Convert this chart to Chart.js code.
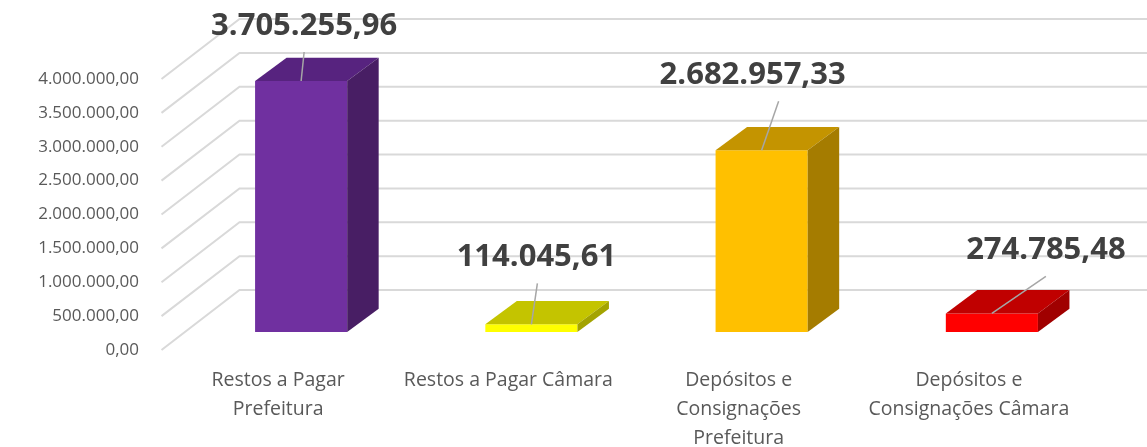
<html>
<head>
  <meta charset="utf-8">
  <title>Chart</title>
  <style>
    body { margin: 0; background: #ffffff; }
    canvas { display: block; }
  </style>
</head>
<body>
  <canvas id="myChart" width="1147" height="447"></canvas>
  <script src="https://cdn.jsdelivr.net/npm/chart.js"></script>
  <script>
    // data
    var categories = [
      ['Restos a Pagar', 'Prefeitura'],
      ['Restos a Pagar Câmara'],
      ['Depósitos e', 'Consignações', 'Prefeitura'],
      ['Depósitos e', 'Consignações Câmara']
    ];
    var values = [3705255.96, 114045.61, 2682957.33, 274785.48];
    var yMin = 0;
    var yMax = 4000000;
    var yStep = 500000;

    // colours of the three visible faces
    var frontColors = ['#7030a0', '#ffff00', '#ffc000', '#ff0000'];
    var topColors = ['#57237f', '#c4c400', '#c49400', '#c00000'];
    var sideColors = ['#481e64', '#a3a300', '#a57c00', '#a00000'];

    // where each value label sits, relative to the top centre of its bar
    var labelOffsets = [[3, -55], [5, -67], [-9, -75], [54, -63]];
    var leaderX = [3, 6, 17, 54];

    var depth = { dx: 31.5, dy: 23.3 };

    function fmt(v) {
      var parts = Math.abs(v).toFixed(2).split('.');
      return parts[0].replace(/\B(?=(\d{3})+(?!\d))/g, '.') + ',' + parts[1];
    }

    var box3d = {
      id: 'box3d',
      beforeDatasetsDraw: function (chart) {
        var ctx = chart.ctx;
        var y = chart.scales.y;
        var left = chart.chartArea.left;
        ctx.save();
        ctx.strokeStyle = '#d9d9d9';
        ctx.lineWidth = 2;
        for (var v = yMin; v <= yMax; v += yStep) {
          var py = y.getPixelForValue(v);
          ctx.beginPath();
          ctx.moveTo(left - 24.5, py + 18);
          ctx.lineTo(left + 53.5, py - 42);
          ctx.lineTo(chart.width, py - 42);
          ctx.stroke();
        }
        ctx.restore();
      },
      afterDatasetsDraw: function (chart) {
        var ctx = chart.ctx;
        var meta = chart.getDatasetMeta(0);
        ctx.save();
        meta.data.forEach(function (bar, i) {
          var w = bar.width;
          var l = bar.x - w / 2, r = bar.x + w / 2;
          var t = bar.y, b = bar.base;
          // top face
          ctx.fillStyle = topColors[i];
          ctx.beginPath();
          ctx.moveTo(l, t);
          ctx.lineTo(r, t);
          ctx.lineTo(r + depth.dx, t - depth.dy);
          ctx.lineTo(l + depth.dx, t - depth.dy);
          ctx.closePath();
          ctx.fill();
          // side face
          ctx.fillStyle = sideColors[i];
          ctx.beginPath();
          ctx.moveTo(r, t);
          ctx.lineTo(r + depth.dx, t - depth.dy);
          ctx.lineTo(r + depth.dx, b - depth.dy);
          ctx.lineTo(r, b);
          ctx.closePath();
          ctx.fill();
        });
        // value labels with leader lines
        meta.data.forEach(function (bar, i) {
          var lx = bar.x + labelOffsets[i][0];
          var ly = bar.y + labelOffsets[i][1];
          ctx.strokeStyle = '#a6a6a6';
          ctx.lineWidth = 1.5;
          ctx.beginPath();
          ctx.moveTo(bar.x + leaderX[i], ly + 26);
          ctx.lineTo(bar.x, bar.y);
          ctx.stroke();
          ctx.fillStyle = '#404040';
          ctx.font = 'bold 31px "Open Sans"';
          ctx.textAlign = 'center';
          ctx.textBaseline = 'middle';
          ctx.fillText(fmt(values[i]), lx, ly);
        });
        ctx.restore();
      }
    };

    var myChart = new Chart(document.getElementById('myChart'), {
      type: 'bar',
      data: {
        labels: categories,
        datasets: [{
          data: values,
          backgroundColor: frontColors,
          borderWidth: 0,
          barPercentage: 0.4,
          categoryPercentage: 1
        }]
      },
      options: {
        responsive: false,
        animation: false,
        layout: { padding: { top: 61, right: 40, left: 0, bottom: 0 } },
        plugins: {
          legend: { display: false },
          tooltip: { enabled: false }
        },
        scales: {
          x: {
            grid: { display: false, drawTicks: false },
            border: { display: false },
            afterFit: function (scale) { scale.height = 115; },
            ticks: {
              color: '#595959',
              font: { family: 'Open Sans', size: 19.5, lineHeight: 1.48 },
              padding: 34.5,
              labelOffset: -23,
              maxRotation: 0,
              autoSkip: false
            }
          },
          y: {
            min: yMin,
            max: yMax,
            grid: { display: false, drawTicks: false },
            border: { display: false },
            afterFit: function (scale) { scale.width = 186; },
            ticks: {
              stepSize: yStep,
              color: '#595959',
              font: { family: 'Open Sans', size: 17 },
              padding: 47,
              labelOffset: 18,
              callback: function (v) { return fmt(v); }
            }
          }
        }
      },
      plugins: [box3d]
    });
  </script>
</body>
</html>
